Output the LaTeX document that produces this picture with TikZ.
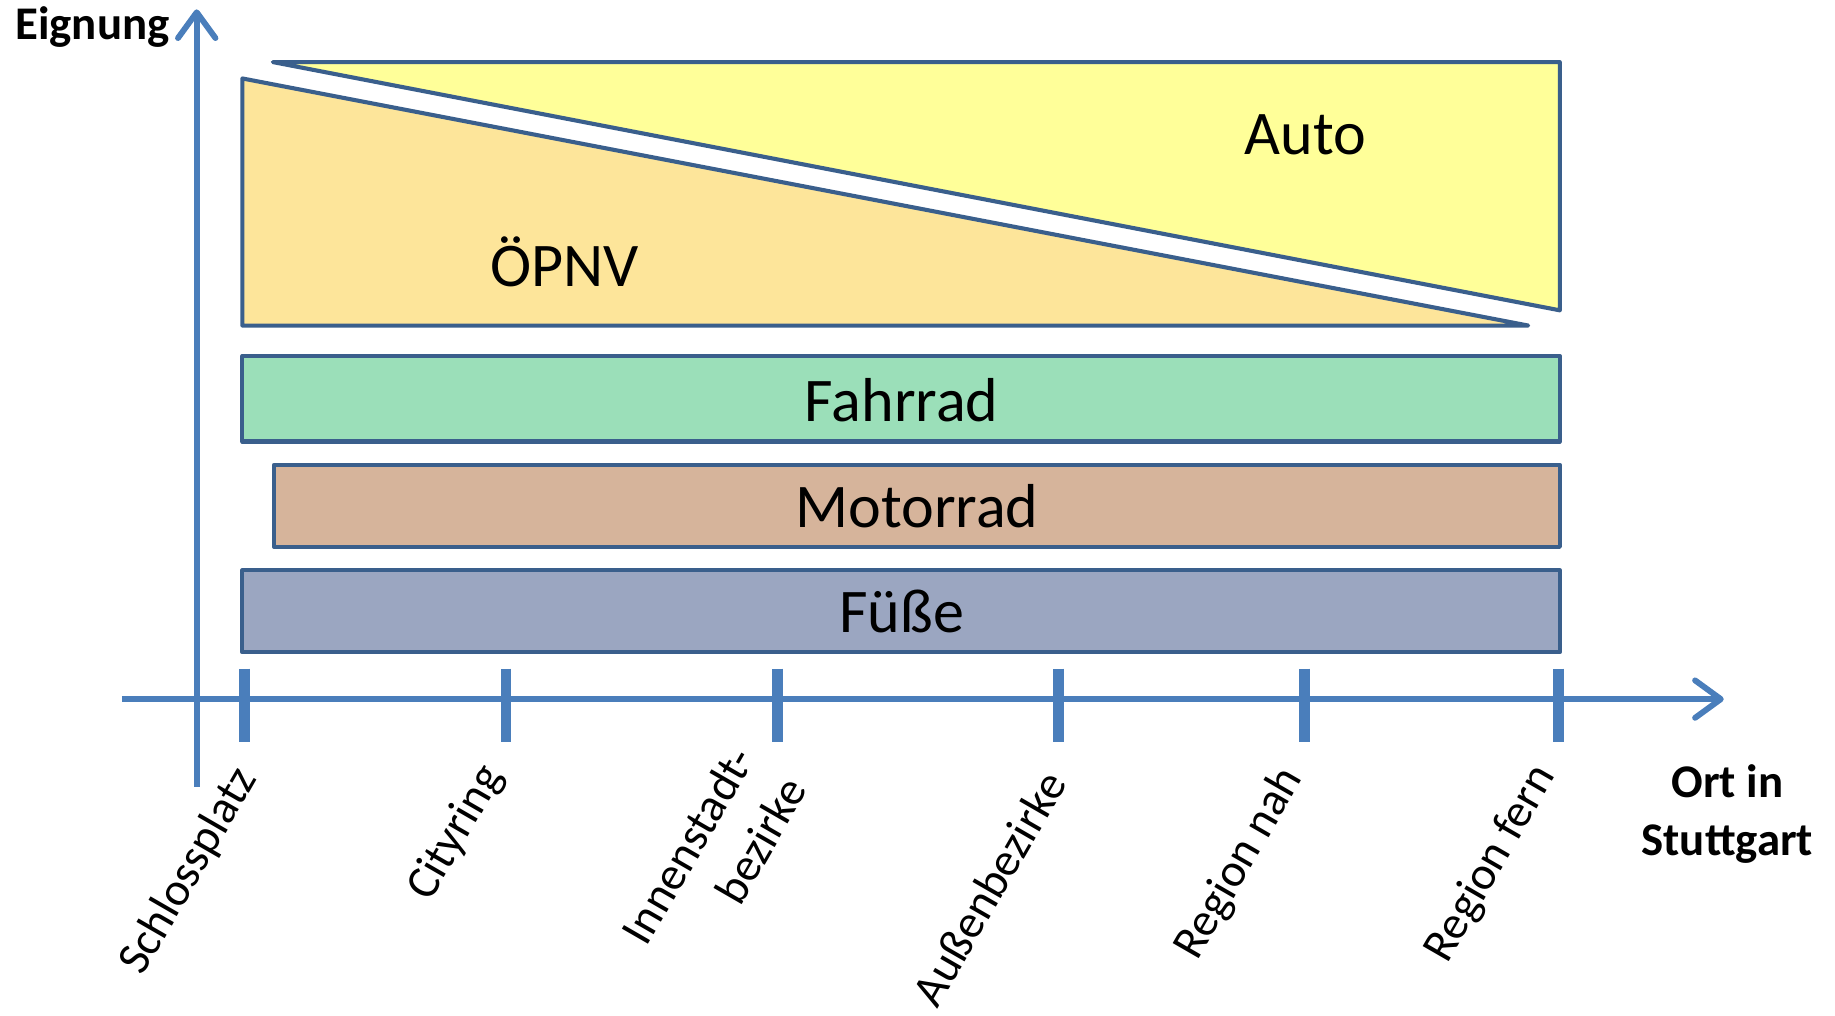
\documentclass[tikz,border=0pt]{standalone}
\usepackage{fontspec}
\setmainfont{Carlito}
\usetikzlibrary{arrows.meta}
\definecolor{axisblue}{HTML}{4A7EBB}
\definecolor{edgeblue}{HTML}{3A5F8C}
\definecolor{autofill}{HTML}{FFFF99}
\definecolor{oepfill}{HTML}{FDE59A}
\definecolor{radfill}{HTML}{9BDFB9}
\definecolor{motofill}{HTML}{D6B49B}
\definecolor{fussfill}{HTML}{9BA6C1}
\begin{document}
\begin{tikzpicture}[x=1pt,y=-1pt,
  band/.style={draw=edgeblue,line width=3.5pt,line join=round},
  axisline/.style={draw=axisblue,line width=5pt},
  tickline/.style={draw=axisblue,line width=9pt},
  biglabel/.style={font=\fontsize{53}{60}\selectfont,inner sep=0pt},
  axistitle/.style={font=\fontsize{40}{49}\selectfont\bfseries,inner sep=0pt,align=center},
  ticklabel/.style={font=\fontsize{40}{52}\selectfont,inner sep=0pt,rotate=60,anchor=east,align=right},
  opentip/.style={-{Straight Barb[length=22pt,width=32pt,round]}}
]
\useasboundingbox (0,0) rectangle (1567,867.6);
% bands
\draw[band,fill=autofill] (233,53) -- (1332,53) -- (1332,265) -- cycle;
\draw[band,fill=oepfill] (207,67) -- (207,278) -- (1305,278) -- cycle;
\draw[band,fill=radfill] (207,304) rectangle (1332,377);
\draw[band,fill=motofill] (234,397) rectangle (1332,467);
\draw[band,fill=fussfill] (207,487) rectangle (1332,557);
\node[biglabel] (auto) at (1115,115) {Auto};
\node[biglabel] (oepnv) at (482,224) {ÖPNV};
\node[biglabel] (rad) at (770,342) {Fahrrad};
\node[biglabel] (moto) at (783,432) {Motorrad};
\node[biglabel] (fuss) at (770,522) {Füße};
% axes
\coordinate (yb) at (168,672);
\coordinate (yt) at (168,8);
\coordinate (xl) at (104,597);
\coordinate (xr) at (1472,597);
\draw[axisline,opentip] (yb) -- (yt);
\draw[axisline,opentip] (xl) -- (xr);
% ticks
\foreach \n/\x in {t1/209,t2/432,t3/664,t4/904,t5/1114,t6/1331}{
  \coordinate (\n a) at (\x,571);
  \coordinate (\n b) at (\x,634);
  \draw[tickline] (\n a) -- (\n b);
}
\node[ticklabel] (l1) at (211,659) {Schlossplatz};
\node[ticklabel] (l2) at (421,657) {Cityring};
\node[ticklabel] (l3) at (656,654) {Innenstadt-\\bezirke};
\node[ticklabel] (l4) at (900,662) {Außenbezirke};
\node[ticklabel] (l5) at (1104,659) {Region nah};
\node[ticklabel] (l6) at (1320,657) {Region fern};
% titles
\node[axistitle,anchor=base east] (eig) at (145,34) {Eignung};
\node[axistitle] (ort) at (1475,695) {Ort in\\Stuttgart};
\end{tikzpicture}
\end{document}
